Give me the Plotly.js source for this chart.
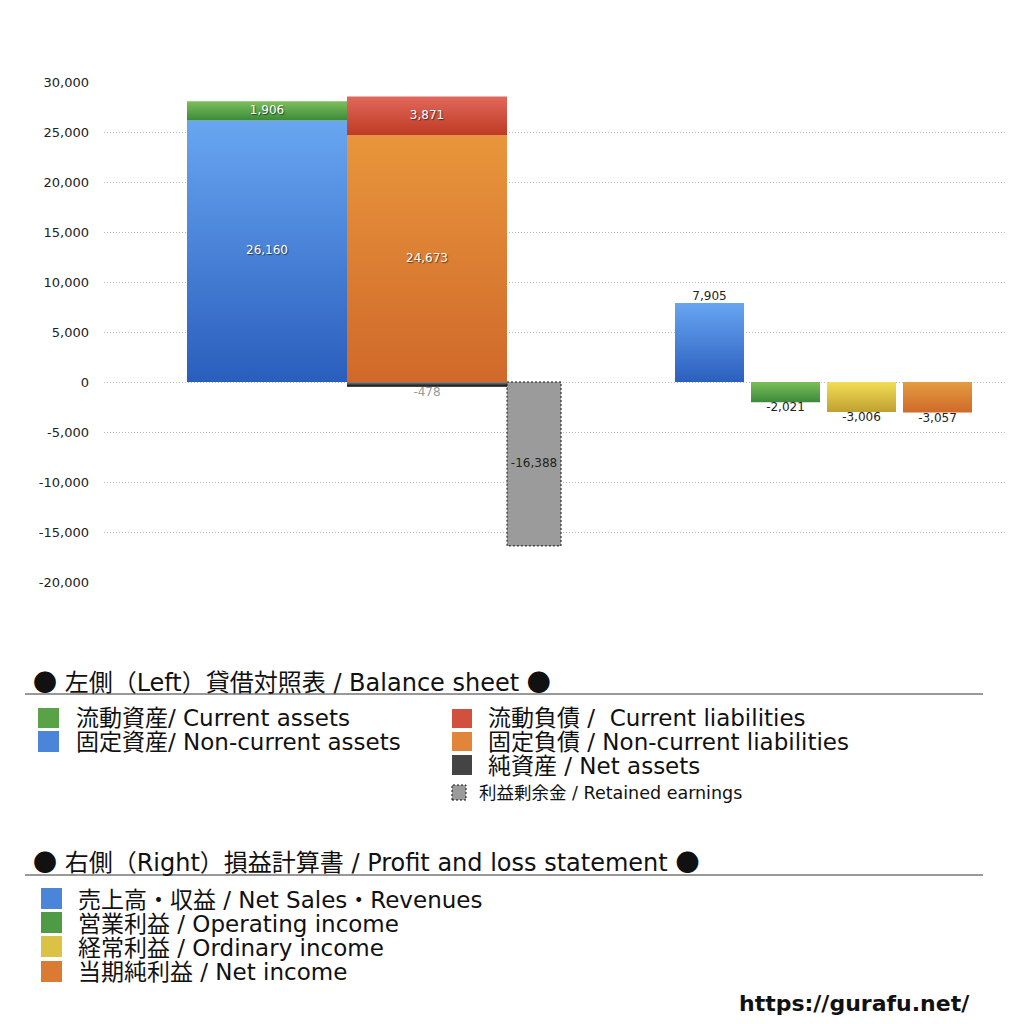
<!DOCTYPE html>
<html><head><meta charset="utf-8">
<script src="https://cdn.plot.ly/plotly-3.0.1.min.js"></script>
<style>body{margin:0;background:#fff}#c{width:1024px;height:1024px}</style>
</head><body><div id="c"></div>
<script>
// ---- data ----
const bsLabels = ['流動資産','固定資産','流動負債','固定負債','純資産','利益剰余金'];
const currentAssets = 1906;
const nonCurrentAssets = 26160;
const currentLiabilities = 3871;
const nonCurrentLiabilities = 24673;
const netAssets = -478;
const retainedEarnings = -16388;
const plLabels = ['売上高・収益','営業利益','経常利益','当期純利益'];
const plValues = [7905, -2021, -3006, -3057];
const yTicks = [-20000,-15000,-10000,-5000,0,5000,10000,15000,20000,25000,30000];

// ---- layout config (positions/styles) ----
const slot = {left:{c:163,w:160}, mid:{c:323,w:160}, ret:{c:430,w:54}};
const plSlots = [{c:605.5,w:69},{c:681.5,w:69},{c:757.5,w:69},{c:833.5,w:69}];
const FONT = '"DejaVu Sans", "Noto Sans CJK JP", sans-serif';
const CJK = '\'Noto Sans CJK JP\'';
const fmt = v => v.toLocaleString('en-US');

function barTrace(s, base, v, bottom, top) {
  const x0 = s.c - s.w/2, x1 = s.c + s.w/2;
  return {
    type:'scatter', mode:'lines', x:[x0,x1,x1,x0,x0], y:[base,base,base+v,base+v,base],
    fill:'toself', hoverinfo:'skip', showlegend:false,
    line:{width:0, color:'rgba(0,0,0,0)'},
    fillgradient:{type:'vertical', colorscale:[[0,bottom],[1,top]]}
  };
}

const traces = [
  barTrace(slot.left, 0, nonCurrentAssets, '#2a5ebd', '#68a6f1'),
  barTrace(slot.left, nonCurrentAssets, currentAssets, '#3b8a3a', '#7dbf5b'),
  barTrace(slot.mid, 0, nonCurrentLiabilities, '#d0692a', '#e8963c'),
  barTrace(slot.mid, nonCurrentLiabilities, currentLiabilities, '#bf3a22', '#e0685c'),
  barTrace(slot.mid, 0, netAssets, '#000000', '#8a8a8a'),
  {type:'scatter', mode:'lines',
   x:[slot.ret.c-slot.ret.w/2, slot.ret.c+slot.ret.w/2, slot.ret.c+slot.ret.w/2, slot.ret.c-slot.ret.w/2, slot.ret.c-slot.ret.w/2],
   y:[0,0,retainedEarnings,retainedEarnings,0], fill:'toself', fillcolor:'#9b9b9b',
   line:{color:'#111', width:1, dash:'2px,2px'}, hoverinfo:'skip', showlegend:false},
  barTrace(plSlots[0], 0, plValues[0], '#2b5fbe', '#67a5f1'),
  barTrace(plSlots[1], 0, plValues[1], '#3d8a3b', '#7cbe58'),
  barTrace(plSlots[2], 0, plValues[2], '#bfa030', '#f3de55'),
  barTrace(plSlots[3], 0, plValues[3], '#d0692a', '#e39c40'),
  // inside labels (white with shadow)
  {type:'scatter', mode:'text', hoverinfo:'skip', showlegend:false,
   x:[slot.left.c, slot.left.c, slot.mid.c, slot.mid.c],
   y:[nonCurrentAssets/2, nonCurrentAssets+currentAssets/2, nonCurrentLiabilities/2, nonCurrentLiabilities+currentLiabilities/2],
   text:[fmt(nonCurrentAssets), fmt(currentAssets), fmt(nonCurrentLiabilities), fmt(currentLiabilities)],
   textposition:'middle center',
   textfont:{family:FONT, size:12, color:'#ffffff', shadow:'1px 1px 1px rgba(0,0,0,0.55)'}},
  // net assets label
  {type:'scatter', mode:'text', hoverinfo:'skip', showlegend:false,
   x:[slot.mid.c], y:[netAssets], text:[fmt(netAssets)], textposition:'bottom center',
   textfont:{family:FONT, size:12, color:'#9a9a9a'}},
  // retained earnings label
  {type:'scatter', mode:'text', hoverinfo:'skip', showlegend:false,
   x:[slot.ret.c], y:[retainedEarnings/2], text:[fmt(retainedEarnings)], textposition:'middle center',
   textfont:{family:FONT, size:12, color:'#222'}},
  // P&L labels
  {type:'scatter', mode:'text', hoverinfo:'skip', showlegend:false,
   x:plSlots.map(s=>s.c), y:plValues, text:plValues.map(fmt),
   textposition:plValues.map(v=> v>=0 ? 'top center':'bottom center'),
   textfont:{family:FONT, size:12, color:'#222'}}
];

// helpers px -> paper
const PL=104, PR=1007, PT=82, PB=582;
const X = p => (p-PL)/(PR-PL);
const Y = p => (PB-p)/(PB-PT);

const annotations = [];
const shapes = [];
function txt(text, x, y, size, opts) {
  annotations.push(Object.assign({xref:'paper', yref:'paper', x:X(x), y:Y(y), text, showarrow:false,
    xanchor:'left', yanchor:'middle', font:{family:FONT, size, color:'#111'}}, opts||{}));
}
// multi-line block with 24px line pitch, glyphs at 'big' px
function block(lines, x, yTop, big) {
  const pitch = 24, base = pitch/1.3;
  const text = lines.map(l => '<span style="font-size:'+big+'px">'+l+'</span>').join('<br>');
  annotations.push({xref:'paper', yref:'paper', x:X(x), y:Y(yTop), text, showarrow:false, align:'left',
    xanchor:'left', yanchor:'top', font:{family:FONT, size:base, color:'#111'}});
}
function box(x0,y0,x1,y1,color,line) {
  shapes.push({type:'rect', xref:'paper', yref:'paper', x0:X(x0), x1:X(x1), y0:Y(y1), y1:Y(y0),
    fillcolor:color, line: line || {width:0}});
}
function hline(y, x0, x1, color, w) {
  shapes.push({type:'line', xref:'paper', yref:'paper', x0:X(x0), x1:X(x1), y0:Y(y), y1:Y(y), line:{color, width:w}});
}
const dot = '<span style="font-family:'+CJK+'">●</span>';

// Balance sheet legend
txt(dot+' 左側（Left）貸借対照表 / Balance sheet '+dot, 31, 680, 24);
hline(694, 25, 983, '#333', 1);
box(38,708,59,728,'#5aa248');
box(38,731,59,752,'#4a85da');
block(['流動資産/ Current assets','固定資産/ Non-current assets'], 74, 703, 23);
box(452,709,472,728,'#d2503e');
box(452,732,472,751,'#e0853a');
box(452,755,472,775,'#444');
block(['流動負債 /  Current liabilities','固定負債 / Non-current liabilities','純資産 / Net assets'], 486, 703, 23);
box(452,785,466,800,'#9b9b9b',{color:'#111',width:1,dash:'2px,2px'});
txt('利益剰余金 / Retained earnings', 477, 793, 17.5);

// P&L legend
txt(dot+' 右側（Right）損益計算書 / Profit and loss statement '+dot, 31, 860, 24);
hline(875, 25, 983, '#777', 1.5);
box(41,888,62,909,'#4a85da');
box(41,912,62,933,'#4f9a44');
box(41,936,62,957,'#dcc244');
box(41,961,62,982,'#db7a32');
block(['売上高・収益 / Net Sales・Revenues','営業利益 / Operating income','経常利益 / Ordinary income','当期純利益 / Net income'], 76, 885, 23);

txt('<b>https://gurafu.net/</b>', 972, 1004, 22, {xanchor:'right'});

const layout = {
  width:1024, height:1024, paper_bgcolor:'#fff', plot_bgcolor:'#fff',
  margin:{l:PL, r:1024-PR, t:PT, b:1024-PB},
  showlegend:false,
  xaxis:{range:[0, PR-PL], visible:false, fixedrange:true},
  yaxis:{range:[-20000,30000], tickvals:yTicks, ticktext:yTicks.map(fmt), showgrid:true,
    gridcolor:'#b8b8b8', griddash:'1px,2px', gridwidth:1, zeroline:false, showline:false, ticks:'',
    ticklabelstandoff:14, tickfont:{family:FONT, size:13, color:'#222'}},
  annotations, shapes
};
Plotly.newPlot('c', traces, layout, {displayModeBar:false, staticPlot:true});
</script></body></html>
